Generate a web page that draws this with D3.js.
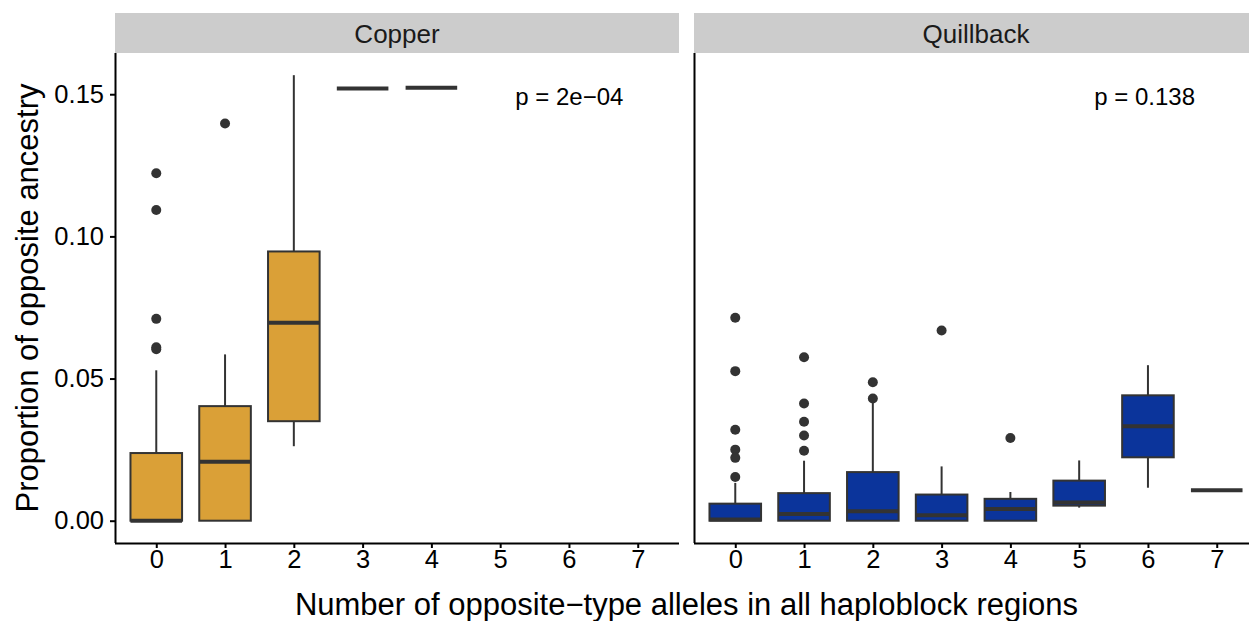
<!DOCTYPE html>
<html>
<head>
<meta charset="utf-8">
<script src="https://cdn.jsdelivr.net/npm/d3@7"></script>
<style>
  html, body { margin: 0; padding: 0; background: #fff; }
  svg { display: block; font-family: "Liberation Sans", Arial, Helvetica, sans-serif; }
</style>
</head>
<body>
<svg id="chart" width="1249" height="621"></svg>
<script>
// Categories: number of opposite-type alleles
const categories = ["0", "1", "2", "3", "4", "5", "6", "7"];
const yTicks = [0, 0.05, 0.10, 0.15];
const speciesNames = ["Copper", "Quillback"];
const speciesColors = ["#DAA037", "#0B349B"];
const pLabels = ["p = 2e\u221204", "p = 0.138"];

// Box summaries per allele count: [lower whisker, Q1, median, Q3, upper whisker]
const copperCats = ["0", "1", "2", "3", "4"];
const copperStats = [
  [0, 0, 0, 0.0238, 0.0529],
  [0, 0, 0.0207, 0.0403, 0.0585],
  [0.0262, 0.0350, 0.0696, 0.0947, 0.1567],
  [0.1520, 0.1520, 0.1520, 0.1520, 0.1520],
  [0.1523, 0.1523, 0.1523, 0.1523, 0.1523]
];
const copperOutliers = [
  [0.1222, 0.1093, 0.0710, 0.0610, 0.0603],
  [0.1397],
  [],
  [],
  []
];

const quillbackCats = ["0", "1", "2", "3", "4", "5", "6", "7"];
const quillbackStats = [
  [0, 0, 0.0004, 0.0060, 0.0133],
  [0, 0, 0.0024, 0.0097, 0.0211],
  [0, 0, 0.0033, 0.0171, 0.0425],
  [0, 0, 0.0019, 0.0092, 0.0191],
  [0, 0, 0.0041, 0.0077, 0.0101],
  [0.0046, 0.0053, 0.0064, 0.0141, 0.0212],
  [0.0116, 0.0223, 0.0332, 0.0441, 0.0547],
  [0.0107, 0.0107, 0.0107, 0.0107, 0.0107]
];
const quillbackOutliers = [
  [0.0714, 0.0526, 0.0320, 0.0250, 0.0221, 0.0154],
  [0.0575, 0.0412, 0.0348, 0.0300, 0.0246],
  [0.0487, 0.0430],
  [0.0669],
  [0.0291],
  [],
  [],
  []
];

const panels = [
  { cats: copperCats, stats: copperStats, outliers: copperOutliers },
  { cats: quillbackCats, stats: quillbackStats, outliers: quillbackOutliers }
];

// Layout
const svg = d3.select("#chart");
const panelTop = 53, panelBottom = 543;
const stripTop = 13;
const panelX = [115, 694];
const panelW = 564;
const ink = "#333333";
const tickFont = 25.5;

const y = d3.scaleLinear().domain([-0.00784, 0.1645]).range([panelBottom, panelTop]);

panels.forEach((p, i) => {
  const x0 = panelX[i];
  const x = d3.scalePoint().domain(categories).range([x0, x0 + panelW]).padding(0.6);
  const step = x.step();
  const bw = step * 0.75;
  const g = svg.append("g");

  // Strip header
  g.append("rect")
    .attr("x", x0).attr("y", stripTop)
    .attr("width", panelW).attr("height", panelTop - stripTop)
    .attr("fill", "#CCCCCC");
  g.append("text")
    .attr("x", x0 + panelW / 2).attr("y", (stripTop + panelTop) / 2 + 1)
    .attr("text-anchor", "middle").attr("dominant-baseline", "central")
    .attr("font-size", 26).attr("fill", "#1a1a1a")
    .text(speciesNames[i]);

  // Boxes
  p.stats.forEach((s, j) => {
    const cx = x(p.cats[j]);
    const [lo, q1, med, q3, hi] = s;
    const bg = g.append("g");
    // whiskers
    bg.append("line").attr("x1", cx).attr("x2", cx)
      .attr("y1", y(q3)).attr("y2", y(hi))
      .attr("stroke", ink).attr("stroke-width", 2);
    bg.append("line").attr("x1", cx).attr("x2", cx)
      .attr("y1", y(q1)).attr("y2", y(lo))
      .attr("stroke", ink).attr("stroke-width", 2);
    // box
    bg.append("rect")
      .attr("x", cx - bw / 2).attr("width", bw)
      .attr("y", y(q3)).attr("height", Math.max(0, y(q1) - y(q3)))
      .attr("fill", speciesColors[i])
      .attr("stroke", ink).attr("stroke-width", 2);
    // median
    bg.append("line")
      .attr("x1", cx - bw / 2).attr("x2", cx + bw / 2)
      .attr("y1", y(med)).attr("y2", y(med))
      .attr("stroke", ink).attr("stroke-width", 4);
    // outliers
    bg.selectAll("circle").data(p.outliers[j]).join("circle")
      .attr("cx", cx).attr("cy", d => y(d)).attr("r", 5)
      .attr("fill", ink);
  });

  // p-value label
  g.append("text")
    .attr("x", x("5") + 0.22 * step).attr("y", y(0.1493))
    .attr("dominant-baseline", "central")
    .attr("font-size", 24).attr("fill", "#000")
    .text(pLabels[i]);

  // x axis
  const xa = g.append("g").attr("transform", `translate(0,${panelBottom})`)
    .call(d3.axisBottom(x).tickSizeOuter(0).tickSize(5).tickPadding(2));
  xa.select(".domain").attr("stroke", "#000").attr("stroke-width", 2)
    .attr("d", `M${x0},0.5H${x0 + panelW}`);
  xa.selectAll(".tick line").attr("stroke", "#000").attr("stroke-width", 2);
  xa.selectAll(".tick text").attr("font-size", tickFont).attr("fill", "#000")
    .attr("font-family", "Liberation Sans, Arial, sans-serif");

  // y axis line
  if (i === 0) {
    const ya = g.append("g").attr("transform", `translate(${x0},0)`)
      .call(d3.axisLeft(y).tickValues(yTicks).tickFormat(d3.format(".2f"))
        .tickSizeOuter(0).tickSize(5).tickPadding(6));
    ya.select(".domain").attr("stroke", "#000").attr("stroke-width", 2)
      .attr("d", `M0.5,${panelTop}V${panelBottom}`);
    ya.selectAll(".tick line").attr("stroke", "#000").attr("stroke-width", 2);
    ya.selectAll(".tick text").attr("font-size", tickFont).attr("fill", "#000")
      .attr("font-family", "Liberation Sans, Arial, sans-serif");
  } else {
    g.append("line").attr("x1", x0 + 0.5).attr("x2", x0 + 0.5)
      .attr("y1", panelTop).attr("y2", panelBottom)
      .attr("stroke", "#000").attr("stroke-width", 2);
  }
});

// Axis titles
svg.append("text")
  .attr("x", (panelX[0] + panelX[1] + panelW) / 2).attr("y", 604)
  .attr("text-anchor", "middle").attr("dominant-baseline", "central")
  .attr("font-size", 31).attr("fill", "#000")
  .text("Number of opposite\u2212type alleles in all haploblock regions");

svg.append("text")
  .attr("transform", `translate(27,${(panelTop + panelBottom) / 2}) rotate(-90)`)
  .attr("text-anchor", "middle").attr("dominant-baseline", "central")
  .attr("font-size", 31).attr("fill", "#000")
  .text("Proportion of opposite ancestry");
</script>
</body>
</html>
